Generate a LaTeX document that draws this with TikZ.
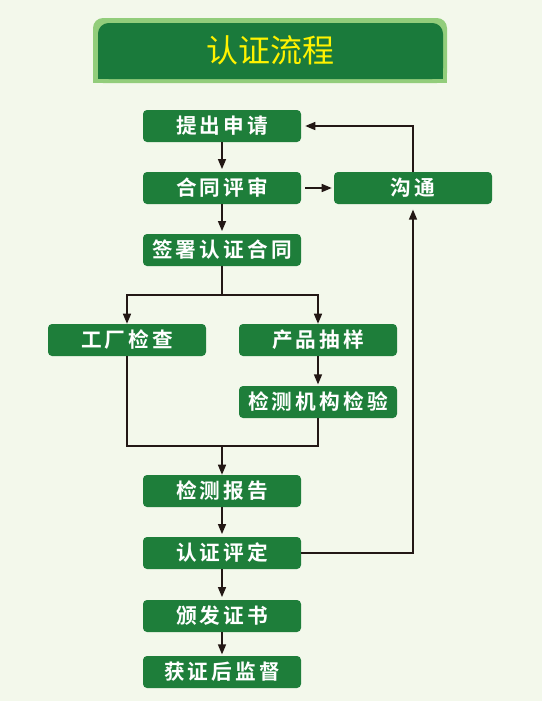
\documentclass[tikz,border=0pt]{standalone}
\usepackage{fontspec}
\usepackage{tikz}
\usetikzlibrary{arrows.meta}

\newfontfamily\boxfont{Noto Sans CJK SC Bold}[LetterSpace=15]
\newfontfamily\titlefont{Noto Sans CJK SC}

\definecolor{bgcol}{HTML}{F3F8EB}
\definecolor{boxgreen}{HTML}{1E7E3A}
\definecolor{titlegreen}{HTML}{1A7A3B}
\definecolor{titlelight}{HTML}{92CD7B}
\definecolor{titleyellow}{HTML}{FFF200}
\definecolor{linecol}{HTML}{231815}

\begin{document}
\begin{tikzpicture}[x=0.75pt,y=-0.75pt,
        stepbox/.style={fill=boxgreen,rounded corners=3pt,minimum width=118.5pt,minimum height=24pt,inner sep=0pt,text=white,font=\boxfont\fontsize{15.5}{15.5}\selectfont},
        flow/.style={draw=linecol,line width=1.1pt,-{Triangle[length=7.5pt,width=6pt]}},
        link/.style={draw=linecol,line width=1.1pt}]

            \useasboundingbox (0,0) rectangle (542,701);
            \fill[bgcol] (0,0) rectangle (542,701);

            % title bar
            \fill[titlelight,rounded corners=7.5pt] (93,18) rectangle (447,83);
            \fill[titlelight] (93,50) rectangle (447,83);
            \fill[titlegreen,rounded corners=8pt] (98,23) rectangle (443,79);
            \fill[titlegreen] (98,50) rectangle (443,79);
            \node[text=titleyellow,font=\titlefont\fontsize{24}{24}\selectfont] (title) at (270,50) {认证流程};

            \node[stepbox] (apply) at (222,126) {提出申请};
            \node[stepbox] (review) at (222,188) {合同评审};
            \node[stepbox] (talk) at (413,188) {沟通};
            \node[stepbox] (sign) at (222,250) {签署认证合同};
            \node[stepbox] (factory) at (127,340) {工厂检查};
            \node[stepbox] (sample) at (318,340) {产品抽样};
            \node[stepbox] (lab) at (318,402) {检测机构检验};
            \node[stepbox] (report) at (222,491) {检测报告};
            \node[stepbox] (assess) at (222,553) {认证评定};
            \node[stepbox] (issue) at (222,616) {颁发证书};
            \node[stepbox] (watch) at (222,672) {获证后监督};

            \coordinate (split) at (222,295);
            \coordinate (merge) at (222,446);

            \draw[flow,shorten >=2pt] (apply) -- (review);
            \draw[flow,shorten <=3pt,shorten >=1.5pt] (review) -- (talk);
            \draw[flow,shorten >=3pt] (talk.north) |- (apply.east);
            \draw[flow,shorten >=2pt] (review) -- (sign);

            \draw[link] (sign.south) -- (split);
            \draw[flow] (split) -| (factory.north);
            \draw[flow] (split) -| (sample.north);
            \draw[flow,shorten >=1pt] (sample) -- (lab);

            \draw[link] (factory.south) |- (merge);
            \draw[link] (lab.south) |- (merge);
            \draw[flow] (merge) -- (report);

            \draw[flow,shorten >=2pt] (report) -- (assess);
            \draw[flow,shorten >=2pt] (assess) -- (issue);
            \draw[flow,shorten >=1pt] (issue) -- (watch);
            \draw[flow,shorten >=4pt] (assess.east) -| (talk.south);
\end{tikzpicture}
\end{document}
